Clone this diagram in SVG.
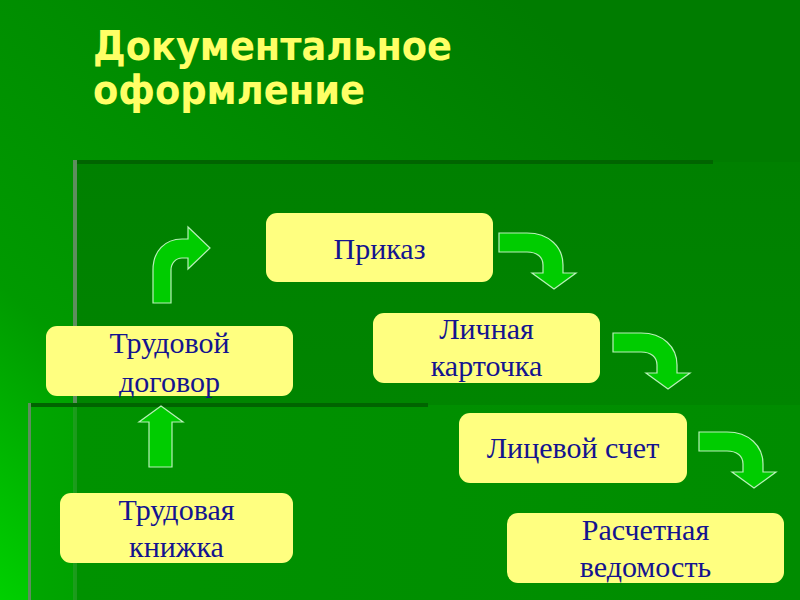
<svg xmlns="http://www.w3.org/2000/svg" xmlns:xlink="http://www.w3.org/1999/xlink" width="800" height="600" viewBox="0 0 800 600">
  <style>
    .box { fill: #ffff80; }
    .lbl { font-family: "Liberation Serif", "Times New Roman", serif; font-size: 30px; fill: #14148f; text-anchor: middle; }
    .title { font-family: "DejaVu Sans", sans-serif; font-weight: bold; font-size: 40px; fill: #ffff66; }
    .arrow { fill: #00cc00; stroke: #b8f0b8; stroke-width: 1.2; stroke-linejoin: miter; }
  </style>
  <defs>
    <linearGradient id="bg" x1="0" y1="600" x2="520" y2="0" gradientUnits="userSpaceOnUse">
      <stop offset="0" stop-color="#00d000"/>
      <stop offset="0.3" stop-color="#009a00"/>
      <stop offset="1" stop-color="#007c00"/>
    </linearGradient>
    <linearGradient id="p1" x1="0" y1="162" x2="0" y2="405" gradientUnits="userSpaceOnUse">
      <stop offset="0" stop-color="#008000"/>
      <stop offset="1" stop-color="#008500"/>
    </linearGradient>
    <linearGradient id="p2" x1="30" y1="0" x2="800" y2="0" gradientUnits="userSpaceOnUse">
      <stop offset="0" stop-color="#00a600"/>
      <stop offset="0.055" stop-color="#00a200"/>
      <stop offset="0.06" stop-color="#009200"/>
      <stop offset="1" stop-color="#008c00"/>
    </linearGradient>
    <path id="bend" d="M0,0 L28,0 C50,0 64,14 64,32 L64,40 L77,40 L55,56 L33,40 L44,40 L44,32 C44,24 38,19 28,19 L0,19 Z"/>
  </defs>

  <g id="background">
    <rect x="0" y="0" width="800" height="600" fill="url(#bg)"/>
    <rect x="77" y="162" width="723" height="243" fill="url(#p1)"/>
    <rect x="75" y="160" width="638" height="4" fill="#006400"/>
    <rect x="73" y="160" width="4" height="245" fill="#5e8e5e"/>
    <rect x="30" y="405" width="770" height="195" fill="url(#p2)"/>
    <rect x="73" y="405" width="4" height="195" fill="#2fa02f" opacity="0.6"/>
    <rect x="28" y="403" width="400" height="4" fill="#006400"/>
    <rect x="28" y="403" width="3" height="197" fill="#5e8e5e"/>
  </g>

  <g id="title">
    <text class="title" x="93" y="60" textLength="359" lengthAdjust="spacingAndGlyphs">Документальное</text>
    <text class="title" x="93" y="104" textLength="272" lengthAdjust="spacingAndGlyphs">оформление</text>
  </g>

  <g id="connectors">
    <path class="arrow" d="M153,303 L153,270 C153,251 165,239 182,239 L188,239 L188,227 L210,248 L188,269 L188,258 L182,258 C176,258 171,263 171,270 L171,303 Z"/>
    <path class="arrow" d="M161,406 L183,422 L172,422 L172,467 L149,467 L149,422 L139,422 Z"/>
    <use class="arrow" xlink:href="#bend" x="499" y="233"/>
    <use class="arrow" xlink:href="#bend" x="613" y="333"/>
    <use class="arrow" xlink:href="#bend" x="699" y="432"/>
  </g>

  <g id="node-prikaz">
    <rect class="box" x="266" y="213" width="227" height="69" rx="11"/>
    <text class="lbl" x="379.5" y="259">Приказ</text>
  </g>
  <g id="node-lichnaya">
    <rect class="box" x="373" y="313" width="227" height="70" rx="11"/>
    <text class="lbl" x="486.5" y="339">Личная</text>
    <text class="lbl" x="486.5" y="376">карточка</text>
  </g>
  <g id="node-dogovor">
    <rect class="box" x="46" y="326" width="247" height="70" rx="11"/>
    <text class="lbl" x="169.5" y="353">Трудовой</text>
    <text class="lbl" x="169.5" y="392">договор</text>
  </g>
  <g id="node-licevoy">
    <rect class="box" x="459" y="413" width="228" height="70" rx="11"/>
    <text class="lbl" x="573" y="458">Лицевой счет</text>
  </g>
  <g id="node-knizhka">
    <rect class="box" x="60" y="493" width="233" height="70" rx="11"/>
    <text class="lbl" x="176.5" y="520">Трудовая</text>
    <text class="lbl" x="176.5" y="557">книжка</text>
  </g>
  <g id="node-raschet">
    <rect class="box" x="507" y="513" width="277" height="70" rx="11"/>
    <text class="lbl" x="645.5" y="540">Расчетная</text>
    <text class="lbl" x="645.5" y="577">ведомость</text>
  </g>
</svg>
